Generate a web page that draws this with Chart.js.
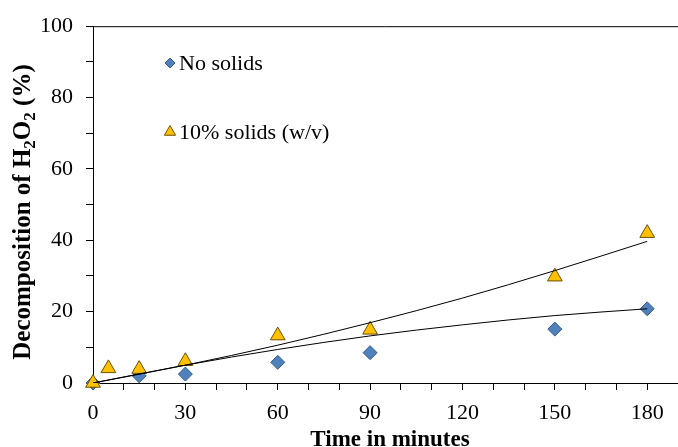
<!DOCTYPE html>
<html>
<head>
<meta charset="utf-8">
<script src="https://cdn.jsdelivr.net/npm/chart.js@4.4.1/dist/chart.umd.min.js"></script>
<style>
  html, body { margin: 0; padding: 0; background: #fff; }
  #wrap { width: 678px; height: 447px; }
</style>
</head>
<body>
<div id="wrap"><canvas id="chart"></canvas></div>
<script>
// measured decomposition (%) against time (min)
const timeNoSolids = [0, 15, 30, 60, 90, 150, 180];
const noSolids = [0, 2.0, 2.5, 5.8, 8.5, 15.1, 20.8];
const timeSolids = [0, 5, 15, 30, 60, 90, 150, 180];
const solids10 = [0, 4.1, 3.9, 6.1, 13.3, 14.9, 29.8, 42.0];

// fitted trend lines
const trendTime = [0, 30, 60, 90, 120, 150, 180];
const trendNoSolids = [0, 5.0, 9.4, 13.2, 16.3, 18.9, 20.8];
const trendSolids10 = [0, 5.0, 10.6, 16.9, 23.8, 31.5, 39.7];

const xTicks = [0, 30, 60, 90, 120, 150, 180];
const yTicks = [0, 20, 40, 60, 80, 100];

const SERIF = "'Liberation Serif', 'Times New Roman', serif";

const toXY = (xs, ys) => xs.map((x, i) => ({ x: x, y: ys[i] }));

// top frame line, axis titles and the in-plot legend
const extras = {
    id: 'extras',
    afterDraw(chart) {
        const { ctx, chartArea } = chart;
        ctx.save();
        ctx.strokeStyle = '#000';
        ctx.lineWidth = 1;
        ctx.beginPath();
        ctx.moveTo(chartArea.left, chartArea.top + 0.5);
        ctx.lineTo(chartArea.right, chartArea.top + 0.5);
        ctx.stroke();

        // x title
        ctx.fillStyle = '#000';
        ctx.font = 'bold 23px ' + SERIF;
        ctx.textAlign = 'center';
        ctx.textBaseline = 'alphabetic';
        ctx.fillText('Time in minutes', 390, 446);

        // y title with subscripts
        const parts = [
            ['Decomposition of H', false],
            ['2', true],
            ['O', false],
            ['2', true],
            [' (%)', false]
        ];
        const big = 'bold 25px ' + SERIF;
        const small = 'bold 17px ' + SERIF;
        let total = 0;
        parts.forEach(p => {
            ctx.font = p[1] ? small : big;
            total += ctx.measureText(p[0]).width;
        });
        ctx.translate(30, 212);
        ctx.rotate(-Math.PI / 2);
        ctx.textAlign = 'left';
        let x = -total / 2;
        parts.forEach(p => {
            ctx.font = p[1] ? small : big;
            ctx.fillText(p[0], x, p[1] ? 5 : 0);
            x += ctx.measureText(p[0]).width;
        });
        ctx.restore();

        // legend
        const entries = [
            { ds: 1, y: 63, r: 5 },
            { ds: 0, y: 132, r: 6.5 }
        ];
        ctx.save();
        entries.forEach(e => {
            const ds = chart.data.datasets[e.ds];
            ctx.fillStyle = ds.backgroundColor;
            ctx.strokeStyle = ds.borderColor;
            ctx.lineWidth = 1;
            Chart.helpers.drawPoint(ctx, { pointStyle: ds.pointStyle, radius: e.r, borderWidth: 1 }, 170, e.y);
            ctx.fillStyle = '#000';
            ctx.font = '22px ' + SERIF;
            ctx.textAlign = 'left';
            ctx.textBaseline = 'middle';
            ctx.fillText(ds.label, 179, e.y + 1);
        });
        ctx.restore();
    }
};

new Chart(document.getElementById('chart'), {
    type: 'scatter',
    data: {
        datasets: [
            {
                label: '10% solids (w/v)',
                data: toXY(timeSolids, solids10),
                pointStyle: 'triangle',
                pointRadius: 8.5,
                backgroundColor: '#FFC000',
                borderColor: '#6B5200',
                borderWidth: 1,
                clip: false,
                order: 1
            },
            {
                label: 'No solids',
                data: toXY(timeNoSolids, noSolids),
                pointStyle: 'rectRot',
                pointRadius: 7,
                backgroundColor: '#4F81BD',
                borderColor: '#385D8A',
                borderWidth: 1,
                clip: false,
                order: 2
            },
            {
                label: 'trend 10% solids',
                data: toXY(trendTime, trendSolids10),
                showLine: true,
                pointRadius: 0,
                borderColor: '#000',
                borderWidth: 1,
                cubicInterpolationMode: 'monotone',
                order: 0
            },
            {
                label: 'trend no solids',
                data: toXY(trendTime, trendNoSolids),
                showLine: true,
                pointRadius: 0,
                borderColor: '#000',
                borderWidth: 1,
                cubicInterpolationMode: 'monotone',
                order: 0
            }
        ]
    },
    options: {
        responsive: true,
        maintainAspectRatio: false,
        animation: false,
        layout: { autoPadding: false, padding: { top: 20, right: 0, bottom: 0, left: 0 } },
        plugins: {
            legend: { display: false },
            tooltip: { enabled: false }
        },
        scales: {
            x: {
                type: 'linear',
                min: 0,
                max: 190,
                afterFit: scale => {
                    scale.height = 64;
                    scale.paddingLeft = 0;
                    scale.paddingRight = 0;
                },
                grid: { drawOnChartArea: false, drawTicks: true, tickLength: 7, color: '#000' },
                border: { color: '#000', width: 1 },
                ticks: {
                    stepSize: 10,
                    autoSkip: false,
                    maxRotation: 0,
                    padding: 10,
                    color: '#000',
                    font: { family: SERIF, size: 22 },
                    callback: v => xTicks.includes(v) ? v : ''
                }
            },
            y: {
                min: 0,
                max: 100,
                afterFit: scale => { scale.width = 93; },
                grid: { drawOnChartArea: false, drawTicks: true, tickLength: 7, color: '#000' },
                border: { color: '#000', width: 1 },
                ticks: {
                    stepSize: 10,
                    autoSkip: false,
                    padding: 13,
                    color: '#000',
                    font: { family: SERIF, size: 22 },
                    callback: v => yTicks.includes(v) ? v : ''
                }
            }
        }
    },
    plugins: [extras]
});
</script>
</body>
</html>
